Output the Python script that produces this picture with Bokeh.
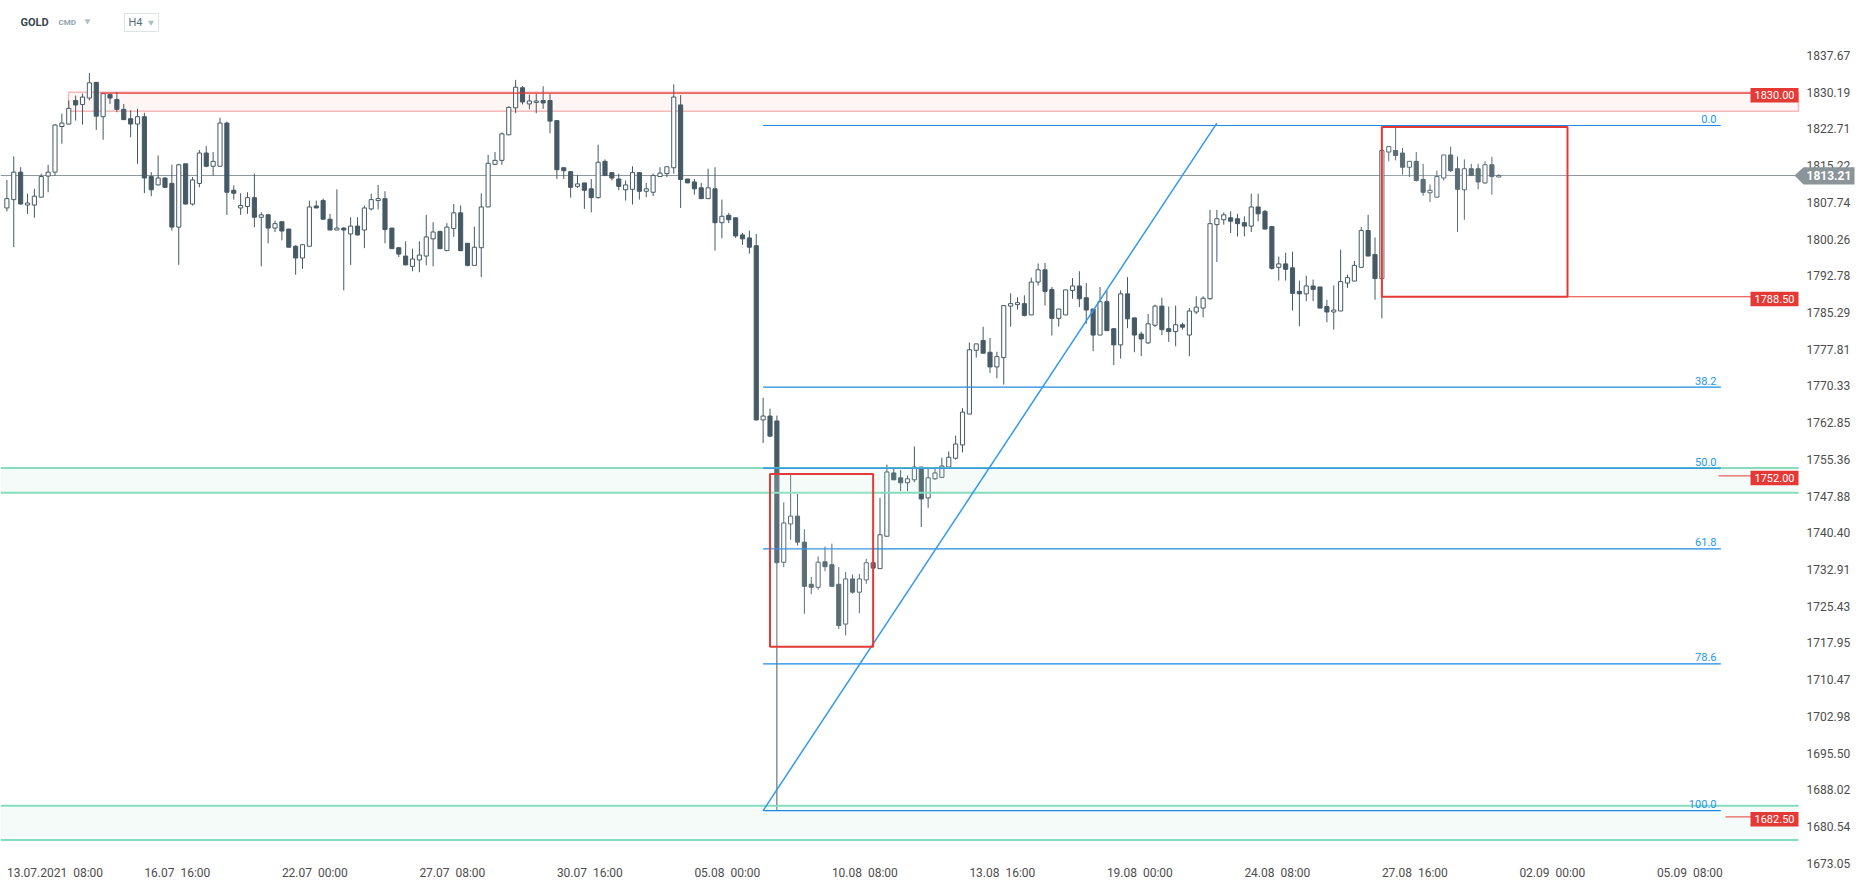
from bokeh.plotting import figure
from bokeh.models import (Range1d, FixedTicker, PrintfTickFormatter, Label,
                          PolyAnnotation, ColumnDataSource)
from bokeh.embed import file_html
from bokeh.resources import INLINE
from bokeh.core.properties import value

# ---------------- data (H4 candles, bar index starts at FIRST_BAR) ----------------
FIRST_BAR = -7
opens = [
    1806.6, 1808.3, 1813.9, 1807.2, 1807.2, 1808.8, 1813.1, 1813.9, 1823.2, 1823.7,
    1828.5, 1827.7, 1829.0, 1832.2, 1825.2, 1829.7, 1828.7, 1826.7, 1824.8, 1823.7,
    1825.2, 1813.0, 1811.3, 1812.7, 1811.6, 1802.7, 1815.6, 1807.4, 1811.6, 1817.8,
    1815.1, 1815.1, 1823.9, 1810.2, 1806.6, 1806.9, 1808.7, 1804.7, 1805.2, 1802.5,
    1803.8, 1802.3, 1798.8, 1796.4, 1798.8, 1807.0, 1808.1, 1804.3, 1802.1, 1802.5,
    1801.3, 1802.9, 1802.1, 1806.4, 1808.1, 1808.5, 1802.5, 1798.5, 1796.8, 1794.7,
    1796.0, 1796.8, 1800.3, 1801.8, 1797.9, 1802.4, 1805.6, 1799.4, 1794.9, 1798.5,
    1806.8, 1815.5, 1816.3, 1821.5, 1827.0, 1831.1, 1827.8, 1828.1, 1828.5, 1828.5,
    1824.4, 1814.8, 1814.0, 1811.0, 1811.7, 1810.5, 1808.7, 1816.1, 1813.8, 1812.5,
    1810.3, 1810.4, 1813.8, 1810.0, 1809.8, 1813.0, 1813.6, 1814.8, 1827.6, 1812.5,
    1811.9, 1810.7, 1808.5, 1810.5, 1803.6, 1805.1, 1804.6, 1801.1, 1800.5, 1798.9,
    1763.4, 1764.2, 1763.2, 1734.4, 1742.2, 1743.8, 1738.5, 1729.9, 1729.3, 1734.5,
    1733.9, 1729.9, 1721.8, 1731.0, 1728.3, 1730.8, 1734.3, 1733.1, 1739.7, 1752.6,
    1751.6, 1750.6, 1751.2, 1753.8, 1747.5, 1751.4, 1751.7, 1753.8, 1755.6, 1758.3,
    1764.6, 1777.6, 1779.6, 1777.2, 1774.2, 1776.1, 1786.6, 1786.9, 1787.1, 1784.8,
    1791.5, 1794.0, 1790.0, 1784.1, 1784.8, 1789.8, 1790.7, 1788.3, 1786.0, 1780.7,
    1787.5, 1782.0, 1778.7, 1789.1, 1784.2, 1780.9, 1779.1, 1782.7, 1786.6, 1782.0,
    1781.4, 1782.8, 1780.7, 1785.4, 1786.2, 1788.1, 1803.2, 1804.2, 1804.6, 1804.4,
    1803.6, 1802.9, 1806.8, 1805.9, 1802.8, 1794.5, 1795.2, 1794.4, 1789.6, 1789.1,
    1790.7, 1790.5, 1786.5, 1785.4, 1785.6, 1791.3, 1791.7, 1794.5, 1802.0, 1797.1,
    1792.2, 1818.0, 1818.3, 1817.8, 1814.9, 1816.1, 1812.4, 1809.7, 1808.8, 1812.7,
    1817.4, 1814.6, 1810.3, 1814.6, 1814.6, 1811.7, 1815.4, 1812.9,
]
highs = [
    1812.3, 1817.1, 1814.9, 1809.5, 1810.5, 1813.6, 1815.4, 1823.7, 1825.8, 1828.5,
    1829.5, 1829.9, 1834.1, 1832.2, 1830.0, 1829.9, 1830.2, 1827.8, 1826.5, 1826.8,
    1826.0, 1813.9, 1817.3, 1812.9, 1815.4, 1815.6, 1815.6, 1812.9, 1818.4, 1819.2,
    1818.0, 1825.0, 1824.2, 1811.2, 1809.6, 1809.8, 1813.6, 1805.7, 1805.4, 1804.0,
    1803.8, 1802.3, 1799.0, 1799.1, 1808.1, 1808.1, 1808.5, 1805.4, 1810.4, 1802.7,
    1804.7, 1804.7, 1807.1, 1809.5, 1811.3, 1810.0, 1802.5, 1798.6, 1799.8, 1798.3,
    1799.8, 1805.2, 1803.7, 1802.0, 1803.5, 1807.4, 1807.1, 1799.4, 1802.8, 1809.6,
    1817.4, 1818.0, 1822.0, 1827.3, 1832.7, 1831.4, 1829.7, 1829.9, 1831.4, 1829.9,
    1824.4, 1814.8, 1814.0, 1813.3, 1811.7, 1812.5, 1819.5, 1816.5, 1813.9, 1813.6,
    1812.2, 1815.1, 1813.9, 1811.7, 1813.6, 1814.9, 1815.0, 1831.8, 1829.6, 1812.5,
    1812.5, 1811.7, 1814.6, 1814.9, 1808.3, 1805.6, 1804.6, 1801.5, 1802.0, 1801.3,
    1767.9, 1765.7, 1764.3, 1746.6, 1752.4, 1748.3, 1741.1, 1731.4, 1735.6, 1737.6,
    1738.2, 1733.4, 1732.4, 1731.9, 1732.0, 1735.1, 1734.3, 1747.5, 1754.3, 1753.4,
    1753.2, 1752.1, 1758.0, 1753.8, 1753.8, 1753.4, 1755.7, 1757.0, 1760.2, 1765.8,
    1779.2, 1778.9, 1782.4, 1780.1, 1777.3, 1786.7, 1789.2, 1788.4, 1788.8, 1792.4,
    1795.3, 1795.4, 1790.5, 1786.0, 1789.9, 1792.3, 1793.7, 1791.3, 1786.0, 1790.5,
    1789.8, 1782.0, 1789.8, 1792.5, 1784.2, 1781.4, 1785.0, 1786.9, 1788.3, 1786.5,
    1786.7, 1783.2, 1786.2, 1788.6, 1788.6, 1806.2, 1806.2, 1805.7, 1805.9, 1805.4,
    1804.9, 1809.5, 1809.5, 1806.2, 1802.8, 1796.7, 1797.5, 1797.7, 1791.8, 1792.8,
    1792.0, 1790.5, 1787.9, 1790.8, 1798.1, 1793.0, 1795.8, 1802.7, 1805.2, 1800.6,
    1818.5, 1819.1, 1823.1, 1818.8, 1816.1, 1818.0, 1815.6, 1811.4, 1814.2, 1817.4,
    1819.1, 1817.1, 1816.5, 1815.6, 1815.6, 1816.1, 1817.0, 1813.5,
]
lows = [
    1805.9, 1798.6, 1807.3, 1805.4, 1804.6, 1808.8, 1809.8, 1813.2, 1819.7, 1823.7,
    1824.4, 1823.6, 1828.5, 1822.5, 1820.5, 1827.8, 1826.1, 1824.6, 1821.0, 1815.6,
    1809.6, 1809.0, 1811.2, 1810.7, 1802.0, 1795.0, 1807.3, 1807.1, 1810.8, 1814.9,
    1813.2, 1815.1, 1805.2, 1808.3, 1805.2, 1805.4, 1802.7, 1794.7, 1799.4, 1801.7,
    1800.0, 1798.6, 1793.0, 1794.2, 1798.8, 1806.6, 1804.3, 1802.1, 1802.1, 1789.8,
    1795.0, 1801.0, 1798.4, 1806.1, 1806.3, 1799.4, 1798.3, 1796.6, 1794.9, 1793.7,
    1793.5, 1794.9, 1794.7, 1798.3, 1797.9, 1800.7, 1797.8, 1794.7, 1794.9, 1792.5,
    1806.8, 1815.3, 1815.4, 1821.5, 1825.9, 1827.7, 1826.7, 1825.9, 1826.8, 1821.8,
    1812.5, 1812.5, 1808.7, 1810.7, 1806.4, 1805.7, 1808.5, 1813.2, 1812.2, 1810.2,
    1808.1, 1807.3, 1808.3, 1808.8, 1809.0, 1812.9, 1812.9, 1813.6, 1806.6, 1811.7,
    1809.3, 1808.5, 1808.5, 1797.9, 1800.4, 1803.5, 1800.5, 1799.1, 1797.3, 1763.3,
    1758.7, 1759.9, 1683.8, 1733.4, 1739.0, 1737.8, 1723.9, 1727.9, 1728.8, 1732.6,
    1729.5, 1720.8, 1719.5, 1728.0, 1724.0, 1730.0, 1733.2, 1733.1, 1739.7, 1751.2,
    1748.9, 1748.9, 1750.7, 1741.6, 1745.5, 1751.2, 1751.7, 1753.8, 1755.3, 1756.8,
    1764.6, 1776.1, 1777.0, 1773.0, 1771.9, 1770.6, 1782.4, 1785.9, 1784.5, 1784.8,
    1790.8, 1786.7, 1780.6, 1782.4, 1784.8, 1788.1, 1786.4, 1783.0, 1777.4, 1780.7,
    1781.5, 1774.6, 1775.9, 1782.1, 1777.2, 1776.4, 1778.9, 1782.3, 1780.7, 1779.3,
    1778.4, 1781.8, 1776.4, 1785.0, 1784.3, 1787.9, 1795.6, 1803.2, 1801.5, 1800.8,
    1800.8, 1801.7, 1803.9, 1802.2, 1794.0, 1791.8, 1791.8, 1785.7, 1782.5, 1787.6,
    1787.6, 1786.2, 1783.3, 1781.8, 1785.6, 1790.3, 1791.7, 1794.5, 1796.8, 1787.9,
    1784.1, 1816.1, 1816.3, 1813.4, 1812.9, 1812.0, 1809.1, 1807.8, 1808.8, 1812.2,
    1813.9, 1801.7, 1804.2, 1813.2, 1810.4, 1811.5, 1809.3, 1812.9,
]
closes = [
    1808.5, 1813.9, 1807.4, 1807.6, 1809.0, 1813.0, 1813.9, 1823.5, 1823.9, 1826.9,
    1827.6, 1829.2, 1832.1, 1825.3, 1829.9, 1829.0, 1826.7, 1824.6, 1823.7, 1825.2,
    1812.7, 1810.3, 1812.7, 1810.8, 1802.7, 1815.4, 1807.4, 1812.3, 1817.8, 1815.1,
    1816.1, 1823.9, 1809.8, 1809.6, 1807.1, 1808.7, 1804.7, 1805.2, 1802.5, 1803.4,
    1801.9, 1798.6, 1796.4, 1799.1, 1806.8, 1806.6, 1804.3, 1802.1, 1802.5, 1802.1,
    1802.9, 1801.1, 1806.6, 1808.3, 1808.5, 1802.2, 1798.3, 1797.2, 1795.0, 1796.2,
    1797.0, 1800.7, 1801.7, 1798.3, 1802.7, 1805.6, 1797.9, 1794.9, 1798.6, 1806.8,
    1815.7, 1816.3, 1821.7, 1827.1, 1831.2, 1828.2, 1828.4, 1828.4, 1828.0, 1824.3,
    1814.4, 1814.2, 1810.8, 1811.5, 1810.2, 1808.7, 1815.9, 1813.2, 1812.7, 1811.0,
    1811.3, 1813.8, 1810.0, 1810.5, 1813.2, 1813.7, 1815.0, 1829.2, 1812.4, 1811.7,
    1810.5, 1808.5, 1810.7, 1803.6, 1804.9, 1804.2, 1800.9, 1800.3, 1798.6, 1763.4,
    1764.2, 1760.1, 1734.3, 1742.4, 1743.8, 1738.5, 1729.5, 1729.3, 1734.4, 1733.5,
    1729.5, 1721.5, 1731.0, 1728.3, 1731.0, 1734.3, 1733.2, 1740.0, 1752.8, 1751.2,
    1750.6, 1751.4, 1753.8, 1747.3, 1751.6, 1752.6, 1754.0, 1755.8, 1758.5, 1765.0,
    1777.7, 1778.9, 1777.0, 1774.2, 1776.3, 1786.7, 1787.1, 1787.3, 1784.7, 1791.5,
    1794.0, 1789.6, 1784.1, 1786.0, 1789.9, 1790.7, 1788.1, 1785.8, 1780.7, 1787.5,
    1781.6, 1778.7, 1789.1, 1784.0, 1780.7, 1779.9, 1783.0, 1786.6, 1781.8, 1781.4,
    1782.8, 1782.3, 1785.6, 1786.4, 1788.2, 1803.4, 1804.4, 1805.2, 1803.9, 1803.4,
    1802.9, 1806.8, 1805.4, 1802.3, 1794.3, 1795.2, 1794.1, 1789.2, 1789.1, 1790.7,
    1790.0, 1786.2, 1785.4, 1785.8, 1791.6, 1792.4, 1794.9, 1802.0, 1796.8, 1792.2,
    1818.3, 1819.1, 1817.3, 1814.9, 1816.1, 1812.2, 1809.8, 1810.2, 1813.0, 1817.4,
    1814.2, 1810.4, 1814.6, 1813.2, 1811.9, 1815.4, 1813.0, 1813.21,
]

# time-axis labels (bar index where each label starts)
xtick_bars = [-7, 13, 33, 53, 73, 93, 113, 133, 153, 173, 193, 213, 233]
xtick_labels = ["13.07.2021\u00a0\u00a008:00", "16.07\u00a0\u00a016:00", "22.07\u00a0\u00a000:00",
                "27.07\u00a0\u00a008:00", "30.07\u00a0\u00a016:00", "05.08\u00a0\u00a000:00",
                "10.08\u00a0\u00a008:00", "13.08\u00a0\u00a016:00", "19.08\u00a0\u00a000:00",
                "24.08\u00a0\u00a008:00", "27.08\u00a0\u00a016:00", "02.09\u00a0\u00a000:00",
                "05.09\u00a0\u00a008:00"]
price_ticks = [1837.67, 1830.19, 1822.71, 1815.22, 1807.74, 1800.26, 1792.78, 1785.29,
               1777.81, 1770.33, 1762.85, 1755.36, 1747.88, 1740.40, 1732.91, 1725.43,
               1717.95, 1710.47, 1702.98, 1695.50, 1688.02, 1680.54, 1673.05]

LAST_PRICE = 1813.21
LEVELS = [1830.00, 1788.50, 1752.00, 1682.50]
GREEN_ZONES = [(1748.55, 1753.60), (1677.80, 1684.80)]
PINK_ZONE = (1826.3, 1830.2)
FIB_HIGH, FIB_LOW = 1823.4, 1683.8
FIB_RATIOS = [0.0, 0.382, 0.5, 0.618, 0.786, 1.0]
FIB_LABELS = ["0.0", "38.2", "50.0", "61.8", "78.6", "100.0"]
FIB_BARS = (103.0, 242.3)
TREND = [(103.0, 1683.8), (169.0, 1823.9)]
BOX_A = dict(left=104.0, right=119.0, top=1752.4, bottom=1717.2)
BOX_B = dict(left=193.0, right=220.0, top=1823.1, bottom=1788.5)

# ---------------- pixel helpers for decoration placement ----------------
def px_x(px):
    return (px - 54.5) / 6.875

def px_y(py):
    return 1837.67 - (py - 55) / 4.907

FONT = "Roboto"
CANDLE = "#455a64"
RED = "#e53935"
BLUE = "#1e88e5"
W, H = 1862, 885
AXIS_Y = 864      # where the time axis sits
AXIS_X = 1798     # where the price axis sits

p = figure(width=W, height=H, output_backend="svg", toolbar_location=None,
           x_range=Range1d(px_x(0), px_x(W)), y_range=Range1d(px_y(H), px_y(0)),
           y_axis_location="right", min_border_left=0, min_border_top=0,
           min_border_right=0, min_border_bottom=0)
p.outline_line_color = None
p.grid.visible = False
p.background_fill_color = "white"

x0, x1 = px_x(0), px_x(AXIS_X)

# axes (pinned inside the plotting area)
xt = []
for b in xtick_bars:
    xt.append(round(b + (7.0 if b == FIRST_BAR else 4.8), 2))
p.xaxis.ticker = FixedTicker(ticks=xt)
p.xaxis.major_label_overrides = {t: l for t, l in zip(xt, xtick_labels)}
p.xaxis.fixed_location = px_y(AXIS_Y)
p.yaxis.ticker = FixedTicker(ticks=price_ticks)
p.yaxis.formatter = PrintfTickFormatter(format="%.2f")
p.yaxis.fixed_location = x1
for ax in (p.xaxis[0], p.yaxis[0]):
    ax.axis_line_color = None
    ax.major_tick_line_color = None
    ax.minor_tick_line_color = None
    ax.major_tick_out = 0
    ax.major_tick_in = 0
    ax.major_label_text_font = FONT
    ax.major_label_text_color = "#4d4d4d"
p.xaxis.major_label_text_font_size = "12px"
p.xaxis.major_label_standoff = 1
p.yaxis.major_label_text_font_size = "12px"
p.yaxis.major_label_standoff = 8

# pink zone (top)
p.quad(left=px_x(68), right=x1, bottom=PINK_ZONE[0], top=PINK_ZONE[1],
       fill_color="#fbe3e3", fill_alpha=0.35, line_color="#f6b9b9", line_width=1.5)

# current price line
p.segment(x0=x0, y0=LAST_PRICE, x1=x1, y1=LAST_PRICE, line_color="#8d979c", line_width=1)

# candles
xs = list(range(FIRST_BAR, FIRST_BAR + len(opens)))
up = [c >= o for o, c in zip(opens, closes)]
src = ColumnDataSource(dict(
    x=xs, high=highs, low=lows,
    top=[max(o, c) for o, c in zip(opens, closes)],
    bottom=[min(o, c) for o, c in zip(opens, closes)],
    fill=["white" if u else CANDLE for u in up],
))
p.segment(x0="x", y0="low", x1="x", y1="high", source=src, line_color=CANDLE, line_width=1)
p.vbar(x="x", width=0.6, top="top", bottom="bottom", source=src,
       fill_color="fill", line_color=CANDLE, line_width=1)

# green zones
for lo, hi in GREEN_ZONES:
    p.quad(left=x0, right=x1, bottom=lo, top=hi, fill_color="#b3e6d5", fill_alpha=0.15,
           line_color=None)
    p.segment(x0=[x0, x0], y0=[lo, hi], x1=[x1, x1], y1=[lo, hi],
              line_color="#86dcbc", line_width=2)

# fibonacci retracement
fib_levels = [FIB_HIGH - r * (FIB_HIGH - FIB_LOW) for r in FIB_RATIOS]
p.segment(x0=[FIB_BARS[0]] * len(fib_levels), y0=fib_levels,
          x1=[FIB_BARS[1]] * len(fib_levels), y1=fib_levels,
          line_color=BLUE, line_width=1.2)
p.text(x=[px_x(1716)] * len(fib_levels), y=[v + 0.5 for v in fib_levels], text=FIB_LABELS,
       text_align="right", text_baseline="bottom", text_font=value(FONT),
       text_font_size="11px", text_color="#2196f3")

# trend line
p.line(x=[TREND[0][0], TREND[1][0]], y=[TREND[0][1], TREND[1][1]],
       line_color="#3399f0", line_width=1.5)

# red boxes
for b in (BOX_A, BOX_B):
    p.quad(left=b["left"], right=b["right"], top=b["top"], bottom=b["bottom"],
           fill_color="white", fill_alpha=0.12, line_color=RED, line_width=2)

# level lines and labels
lab_x = px_x(1774)
p.segment(x0=px_x(100), y0=LEVELS[0], x1=lab_x, y1=LEVELS[0], line_color=RED, line_width=1.3)
p.segment(x0=BOX_B["right"], y0=LEVELS[1], x1=lab_x, y1=LEVELS[1], line_color=RED, line_width=1)
p.segment(x0=px_x(1718), y0=LEVELS[2], x1=lab_x, y1=LEVELS[2], line_color=RED, line_width=1)
p.segment(x0=px_x(1725), y0=LEVELS[3], x1=lab_x, y1=LEVELS[3], line_color=RED, line_width=1)
p.rect(x=[lab_x] * 4, y=[v - 0.45 for v in LEVELS], width=48, height=14.5,
       width_units="screen", height_units="screen", fill_color=RED, line_color=None)
p.text(x=[lab_x] * 4, y=[v - 0.45 for v in LEVELS], text=["%.2f" % v for v in LEVELS],
       text_align="center", text_baseline="middle", text_font=value(FONT),
       text_font_size="11px", text_color="white")

# header
p.text(x=[px_x(20)], y=[px_y(22)], text=["GOLD"], text_font=value(FONT), text_font_style="bold",
       text_font_size="11px", text_color="#37474f", text_baseline="middle")
p.text(x=[px_x(58)], y=[px_y(22)], text=["CMD"], text_font=value(FONT), text_font_style="bold",
       text_font_size="8px", text_color="#90a4ae", text_baseline="middle")
p.scatter(x=[px_x(87), px_x(150.5)], y=[px_y(20.5), px_y(22)], marker="inverted_triangle",
          size=6, fill_color="#b0bec5", line_color=None)
p.quad(left=px_x(124), right=px_x(158), top=px_y(13), bottom=px_y(31),
       fill_color=None, line_color="#dde2e5", line_width=1)
p.text(x=[px_x(128)], y=[px_y(22)], text=["H4"], text_font=value(FONT),
       text_font_size="11px", text_color="#546e7a", text_baseline="middle")

# current price tag on the axis
tag = PolyAnnotation(xs=[px_x(1794), px_x(1803), px_x(1854), px_x(1854), px_x(1803)],
                     ys=[LAST_PRICE, px_y(166.7), px_y(166.7), px_y(184), px_y(184)],
                     xs_units="data", ys_units="data", fill_color="#8a9499", fill_alpha=1,
                     line_color=None, level="overlay")
p.add_layout(tag)
p.add_layout(Label(x=px_x(1806), y=LAST_PRICE, text="%.2f" % LAST_PRICE, text_font=FONT,
                   text_font_size="12px", text_font_style="bold", text_color="white",
                   text_baseline="middle", level="overlay"))

open("out.html", "w").write(file_html(p, INLINE))
